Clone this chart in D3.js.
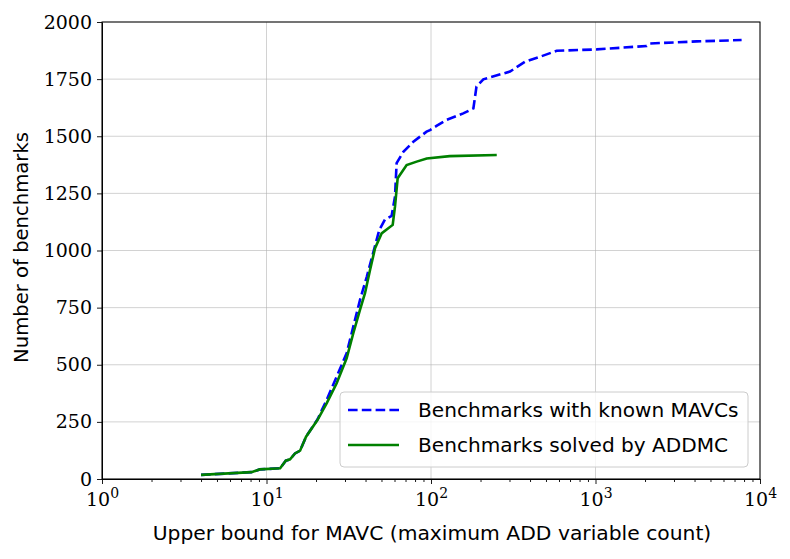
<!DOCTYPE html>
<html><head><meta charset="utf-8">
<script src="https://cdn.jsdelivr.net/npm/d3@7"></script>
<style>body{margin:0;background:#fff}</style>
</head><body>
<svg id="c" width="790" height="559"></svg>
<script>
const knownX = [4, 8.1, 9.1, 12.1, 13.1, 13.9, 14.9, 16, 17.4, 20.4, 23.2, 26.7, 30.7, 33.7, 37, 40.7, 44.5, 48.5, 52.5, 57.6, 60.4, 61.8, 67.9, 78.1, 94, 98.6, 108, 124, 157, 181, 189, 208, 302, 373, 460, 581, 1016, 2046, 2145, 4120, 7730];
const knownY = [18, 30, 42, 47, 80, 86, 112, 124, 185, 260, 346, 448, 550, 667, 783, 885, 990, 1090, 1136, 1151, 1235, 1382, 1432, 1476, 1520, 1527, 1545, 1571, 1600, 1622, 1717, 1749, 1783, 1826, 1848, 1874, 1880, 1895, 1906, 1915, 1921];
const solvedX = [4, 8.1, 9.1, 12.1, 13.1, 13.9, 14.9, 16, 17.4, 20.4, 23.2, 26.7, 30.7, 33.7, 37, 39.7, 42.6, 45.7, 50.1, 55, 58.5, 60.4, 62.7, 71.1, 81.8, 94.2, 130, 251];
const solvedY = [18, 30, 42, 47, 80, 86, 112, 124, 185, 258, 331, 419, 528, 638, 740, 813, 915, 1010, 1075, 1097, 1112, 1192, 1316, 1374, 1389, 1403, 1413, 1418];
const yTicks = [0, 250, 500, 750, 1000, 1250, 1500, 1750, 2000];
const xTicks = [1, 10, 100, 1000, 10000];
const xTickExp = ["0", "1", "2", "3", "4"];
const seriesNames = ["Benchmarks with known MAVCs", "Benchmarks solved by ADDMC"];

const L = 102, R = 760, T = 22, B = 479;
const svg = d3.select("#c");
const x = d3.scaleLog().domain([1, 10000]).range([L, R]);
const y = d3.scaleLinear().domain([0, 2000]).range([B, T]);
const serif = "'DejaVu Serif', serif";
const sans = "'DejaVu Sans', sans-serif";

// grid
svg.append("g").selectAll("line").data(xTicks).join("line")
  .attr("x1", d => x(d)).attr("x2", d => x(d)).attr("y1", T).attr("y2", B)
  .attr("stroke", "#b0b0b0").attr("stroke-width", 0.8).attr("opacity", 0.7);
svg.append("g").selectAll("line").data(yTicks).join("line")
  .attr("x1", L).attr("x2", R).attr("y1", d => y(d)).attr("y2", d => y(d))
  .attr("stroke", "#b0b0b0").attr("stroke-width", 0.8).attr("opacity", 0.7);

const line = d3.line().x(d => x(d[0])).y(d => y(d[1]));
const known = knownX.map((v, i) => [v, knownY[i]]);
const solved = solvedX.map((v, i) => [v, solvedY[i]]);
svg.append("path").datum(known).attr("d", line).attr("fill", "none")
  .attr("stroke", "#0000ff").attr("stroke-width", 2.6).attr("stroke-dasharray", "9.6,4.2");
svg.append("path").datum(solved).attr("d", line).attr("fill", "none")
  .attr("stroke", "#008000").attr("stroke-width", 2.6);

// axes
const minor = [];
for (let e = 0; e < 4; e++) for (let k = 2; k < 10; k++) minor.push(k * Math.pow(10, e));
const xAxis = d3.axisBottom(x).tickValues(xTicks).tickFormat(() => "").tickSize(5).tickSizeOuter(0);
const gx = svg.append("g").attr("transform", `translate(0,${B})`).call(xAxis);
svg.append("g").attr("transform", `translate(0,${B})`)
  .call(d3.axisBottom(x).tickValues(minor).tickFormat(() => "").tickSize(3).tickSizeOuter(0))
  .select(".domain").remove();
const gy = svg.append("g").attr("transform", `translate(${L},0)`)
  .call(d3.axisLeft(y).tickValues(yTicks).tickFormat(d => d).tickSize(5).tickSizeOuter(0));
svg.selectAll(".tick line").attr("stroke", "#000").attr("stroke-width", 0.9);
gy.selectAll("text").attr("font-family", serif).attr("font-size", 19).attr("fill", "#000").attr("dx", "-2");
gx.selectAll(".tick").each(function(d, i) {
  const t = d3.select(this).append("text").attr("y", 27).attr("fill", "#000")
    .attr("font-family", serif).attr("font-size", 19).attr("text-anchor", "middle");
  t.append("tspan").text("10");
  t.append("tspan").attr("dy", -8).attr("font-size", 14).text(xTickExp[i]);
});
// frame
svg.append("rect").attr("x", L).attr("y", T).attr("width", R - L).attr("height", B - T)
  .attr("fill", "none").attr("stroke", "#000").attr("stroke-width", 1);

// labels
svg.append("text").attr("x", (L + R) / 2 + 1).attr("y", 540).attr("text-anchor", "middle")
  .attr("font-family", sans).attr("font-size", 20.3).attr("fill", "#000")
  .text("Upper bound for MAVC (maximum ADD variable count)");
svg.append("text").attr("transform", `translate(28,${(T + B) / 2 - 3}) rotate(-90)`).attr("text-anchor", "middle")
  .attr("font-family", sans).attr("font-size", 19.6).attr("fill", "#000")
  .text("Number of benchmarks");

// legend
const lg = svg.append("g");
lg.append("rect").attr("x", 340).attr("y", 392).attr("width", 408).attr("height", 75).attr("rx", 4)
  .attr("fill", "#fff").attr("fill-opacity", 0.8).attr("stroke", "#ccc").attr("stroke-width", 1);
const styles = [{c: "#0000ff", dash: "9.6,4.2"}, {c: "#008000", dash: null}];
seriesNames.forEach((n, i) => {
  const cy = 410 + i * 35;
  lg.append("line").attr("x1", 348).attr("x2", 399).attr("y1", cy).attr("y2", cy)
    .attr("stroke", styles[i].c).attr("stroke-width", 2.6).attr("stroke-dasharray", styles[i].dash);
  lg.append("text").attr("x", 418).attr("y", cy + 7).attr("font-family", sans).attr("font-size", 20.1)
    .attr("fill", "#000").text(n);
});
</script>
</body></html>
